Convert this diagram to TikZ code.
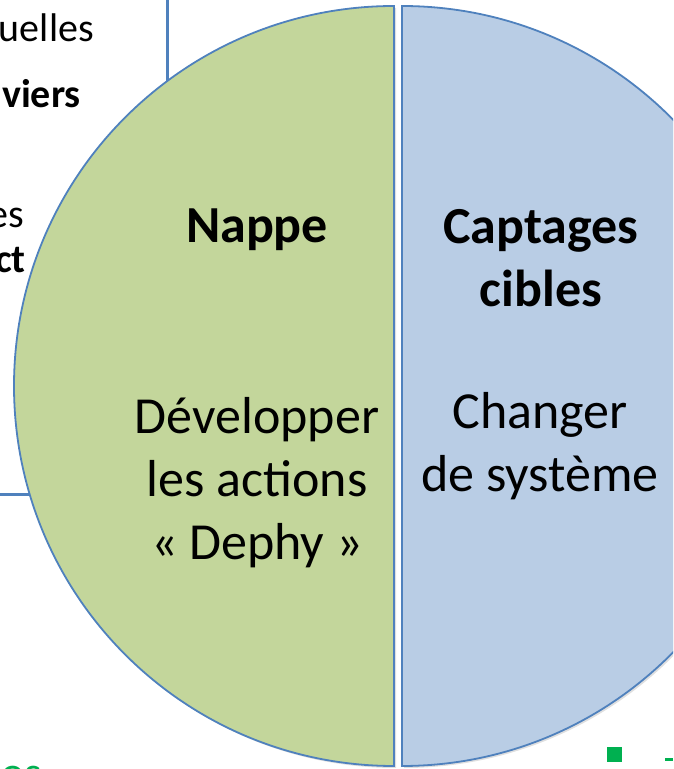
\documentclass[tikz,border=0pt]{standalone}
\usepackage{fontspec}
\setmainfont{Carlito}
\usepackage{xcolor}
\usetikzlibrary{shadows}

\definecolor{officeblue}{HTML}{4F81BD}
\definecolor{halfgreen}{HTML}{C3D69B}
\definecolor{halfblue}{HTML}{B9CDE5}
\definecolor{slidegreen}{HTML}{00B050}

\begin{document}
\begin{tikzpicture}[x=1pt, y=1pt,
  half/.style={draw=officeblue, line width=1.8pt,
    drop shadow={opacity=0.25, shadow xshift=2pt, shadow yshift=-2pt}},
  big/.style={font=\fontsize{52}{63}\selectfont, align=center, anchor=base},
  small/.style={font=\fontsize{40}{48}\selectfont, anchor=base east, inner sep=0pt}]
\useasboundingbox (0,0) rectangle (673,769);
\clip (0,0) rectangle (673,769);
% box behind the halves
\draw[officeblue, line width=3pt] (-20,274) rectangle (167,800);
\node[small] (l1) at (94,727) {uelles};
\node[small, font=\fontsize{40}{48}\selectfont\bfseries] (l2) at (81,661) {viers};
\node[small] (l3) at (24,541) {es};
\node[small, font=\fontsize{40}{48}\selectfont\bfseries] (l4) at (26,496) {ct};
% two halves
\path[half, fill=halfgreen] (394,763) arc[start angle=90, end angle=270, radius=380] -- cycle;
\path[half, fill=halfblue] (402,763) arc[start angle=90, end angle=-90, radius=380] -- cycle;
\node[big, font=\fontsize{52}{63}\selectfont\bfseries] (nappe) at (257,526) {Nappe};
\node[big] (nappeact) at (257,209) {Développer\\les actions\\« Dephy »};
\node[big, font=\fontsize{52}{63}\selectfont\bfseries] (capt) at (541,462) {Captages\\cibles};
\node[big] (captact) at (540,277) {Changer\\de système};
% bits of the slide below
\node[font=\fontsize{44}{52}\selectfont, text=slidegreen, anchor=base west, inner sep=0pt] (os) at (1,-18) {os};
\fill[slidegreen] (607,7) rectangle (622,22);
\fill[slidegreen] (665,8) rectangle (673,11);
\end{tikzpicture}
\end{document}
